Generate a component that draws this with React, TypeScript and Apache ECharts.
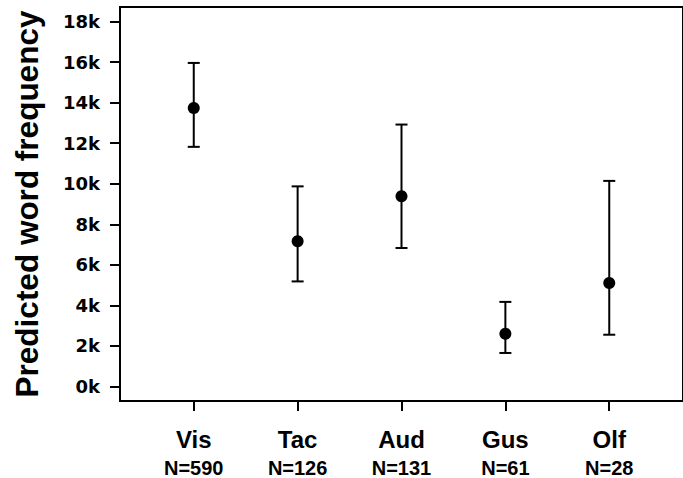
import React, { useEffect, useRef } from "react";
import * as echarts from "echarts";

const categories = ["Vis", "Tac", "Aud", "Gus", "Olf"];
const sampleSizes = ["N=590", "N=126", "N=131", "N=61", "N=28"];
const means = [13740, 7160, 9380, 2600, 5100];
const lower = [11820, 5180, 6830, 1650, 2550];
const upper = [15960, 9870, 12920, 4170, 10140];
const yTicks = [0, 2000, 4000, 6000, 8000, 10000, 12000, 14000, 16000, 18000];
const xPositions = [1, 2, 3, 4, 5];

const FONT = "'Liberation Sans', Arial, Helvetica, sans-serif";

export default function App() {
  const ref = useRef<HTMLDivElement>(null);
  useEffect(() => {
    if (!ref.current) return;
    const chart = echarts.init(ref.current, null, { renderer: "svg" });
    const errData = xPositions.map((x, i) => [x, lower[i], upper[i]]);
    const ptData = xPositions.map((x, i) => [x, means[i]]);
    chart.setOption({
      animation: false,
      backgroundColor: "#fff",
      grid: {
        left: 120,
        top: 7,
        right: -14,
        bottom: 77,
        show: true,
        borderColor: "#000",
        borderWidth: 2,
      },
      xAxis: {
        type: "value",
        position: "bottom",
        min: 0.29,
        max: 5.71,
        splitLine: { show: false },
        axisLine: { show: true, onZero: false, lineStyle: { color: "#000", width: 2 } },
        axisTick: {
          show: true,
          inside: false,
          customValues: xPositions,
          length: 10,
          lineStyle: { color: "#000", width: 2 },
        },
        axisLabel: {
          customValues: xPositions,
          margin: 22,
          formatter: (v: number) => {
            const i = Math.round(v) - 1;
            return `{a|${categories[i]}}\n{b|${sampleSizes[i]}}`;
          },
          rich: {
            a: { fontSize: 24, fontWeight: "bold", fontFamily: FONT, color: "#000", lineHeight: 32 },
            b: { fontSize: 20, fontWeight: "bold", fontFamily: FONT, color: "#000", lineHeight: 26 },
          },
        },
      },
      yAxis: {
        type: "value",
        position: "left",
        min: -720,
        max: 18720,
        name: "Predicted word frequency",
        nameLocation: "middle",
        nameGap: 77,
        nameTextStyle: { fontSize: 31.5, fontWeight: "bold", fontFamily: FONT, color: "#000" },
        splitLine: { show: false },
        axisLine: { show: true, onZero: false, lineStyle: { color: "#000", width: 2 } },
        axisTick: {
          show: true,
          inside: false,
          customValues: yTicks,
          length: 10,
          lineStyle: { color: "#000", width: 2 },
        },
        axisLabel: {
          customValues: yTicks,
          margin: 20,
          fontSize: 18,
          fontWeight: "bold",
          fontFamily: "'DejaVu Sans', sans-serif",
          color: "#000",
          formatter: (v: number) => `${Math.round(v / 1000)}k`,
        },
      },
      series: [
        {
          type: "custom",
          data: errData,
          renderItem: (params: any, api: any) => {
            const x = api.value(0);
            const lo = api.coord([x, api.value(1)]);
            const hi = api.coord([x, api.value(2)]);
            const hw = 6;
            const style = { stroke: "#000", lineWidth: 2 };
            return {
              type: "group",
              children: [
                { type: "line", shape: { x1: lo[0], y1: lo[1], x2: hi[0], y2: hi[1] }, style },
                { type: "line", shape: { x1: hi[0] - hw, y1: hi[1], x2: hi[0] + hw, y2: hi[1] }, style },
                { type: "line", shape: { x1: lo[0] - hw, y1: lo[1], x2: lo[0] + hw, y2: lo[1] }, style },
              ],
            };
          },
          z: 1,
        },
        {
          type: "scatter",
          data: ptData,
          symbol: "circle",
          symbolSize: 12,
          itemStyle: { color: "#000", opacity: 1 },
          z: 2,
        },
      ],
    });
    return () => chart.dispose();
  }, []);
  return <div ref={ref} style={{ width: 683, height: 478, position: "absolute", left: 0, top: 0 }} />;
}
